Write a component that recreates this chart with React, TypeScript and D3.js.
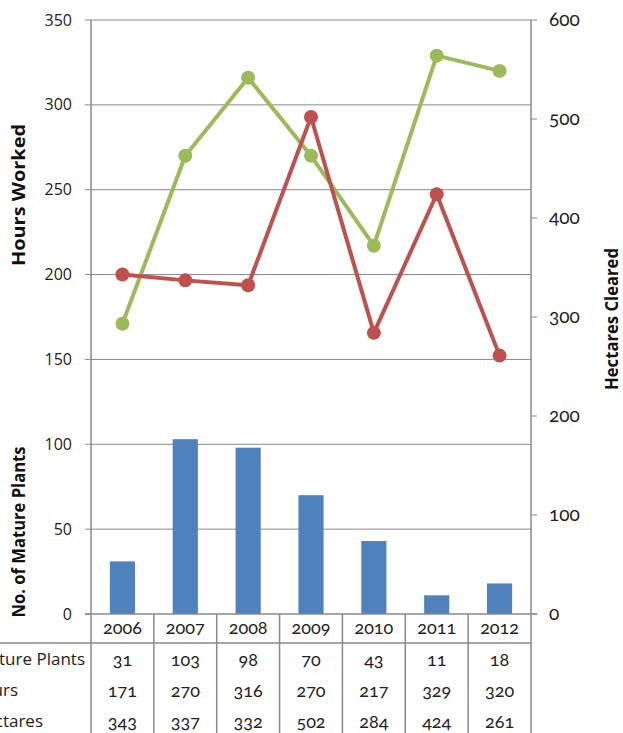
import React from "react";
import * as d3 from "d3";

const years = ["2006", "2007", "2008", "2009", "2010", "2011", "2012"];
const maturePlants = [31, 103, 98, 70, 43, 11, 18];
const hoursWorked = [171, 270, 316, 270, 217, 329, 320];
const hectaresCleared = [343, 337, 332, 502, 284, 424, 261];
const leftTicks = [0, 50, 100, 150, 200, 250, 300, 350];
const rightTicks = [0, 100, 200, 300, 400, 500, 600];
const rowLabels = ["No. of Mature Plants", "Hours", "Hectares"];

const W = 623;
const H = 733;
const plotLeft = 91;
const plotRight = 531;
const plotTop = 20;
const plotBottom = 614;
const tableRowH = 31;
const yearRowBottom = 643;

const GRID = "#898989";
const BLUE = "#4F81BD";
const GREEN = "#9BBB59";
const RED = "#C0504D";
const SANS = "'Open Sans', 'Noto Sans', sans-serif";
const OLD = "Lato, 'Open Sans', sans-serif";
const oldNums = { fontVariantNumeric: "oldstyle-nums" } as React.CSSProperties;

export default function App() {
  const x = d3
    .scaleBand<string>()
    .domain(years)
    .range([plotLeft, plotRight])
    .paddingInner(0.6)
    .paddingOuter(0.3);
  const step = (plotRight - plotLeft) / years.length;
  const cx = (i: number) => (x(years[i]) as number) + x.bandwidth() / 2;
  const yL = d3.scaleLinear().domain([0, 350]).range([plotBottom, plotTop]);
  const yR = d3.scaleLinear().domain([0, 600]).range([plotBottom, plotTop]);

  const hoursLine = d3
    .line<number>()
    .x((_, i) => cx(i))
    .y((d) => yL(d));
  const hectaresLine = d3
    .line<number>()
    .x((_, i) => cx(i))
    .y((d) => yR(d));

  const rows = [maturePlants, hoursWorked, hectaresCleared];
  const rowLabelEnds = [85, 18, 43];

  const titles = [
    { text: "Hours Worked", x: 25, y: 195, len: 142 },
    { text: "No. of Mature Plants", x: 25, y: 532, len: 171 },
    { text: "Hectares Cleared", x: 618, y: 319, len: 142 },
  ];

  return (
    <svg
      width={W}
      height={H}
      style={{ position: "absolute", left: 0, top: 0, background: "#fff" }}
    >
      {/* horizontal gridlines */}
      {leftTicks.slice(1).map((t) => (
        <line
          key={"g" + t}
          x1={plotLeft}
          x2={plotRight}
          y1={yL(t)}
          y2={yL(t)}
          stroke={GRID}
          strokeWidth={1}
        />
      ))}

      {/* bars */}
      {maturePlants.map((v, i) => (
        <rect
          key={"b" + i}
          x={x(years[i])}
          y={yL(v)}
          width={x.bandwidth()}
          height={plotBottom - yL(v)}
          fill={BLUE}
        />
      ))}

      {/* axes */}
      <line x1={plotLeft} x2={plotLeft} y1={plotTop} y2={H} stroke={GRID} strokeWidth={1.5} />
      <line x1={plotRight} x2={plotRight} y1={plotTop} y2={H} stroke={GRID} strokeWidth={1.5} />
      <line x1={plotLeft - 6} x2={plotRight + 6} y1={plotBottom} y2={plotBottom} stroke={GRID} strokeWidth={1.5} />
      {leftTicks.map((t) => (
        <g key={"lt" + t}>
          <line x1={plotLeft - 6} x2={plotLeft} y1={yL(t)} y2={yL(t)} stroke={GRID} strokeWidth={1} />
          <text
            x={72}
            y={yL(t)}
            dy="0.35em"
            textAnchor="end"
            fontFamily={SANS}
            fontSize={16}
            fill="#222"
          >
            {t}
          </text>
        </g>
      ))}
      {rightTicks.map((t) => (
        <g key={"rt" + t}>
          <line x1={plotRight} x2={plotRight + 6} y1={yR(t)} y2={yR(t)} stroke={GRID} strokeWidth={1} />
          <text
            x={549}
            y={yR(t)}
            dy="0.3em"
            textAnchor="start"
            fontFamily={OLD}
            fontSize={19}
            fill="#222"
            style={oldNums}
          >
            {t}
          </text>
        </g>
      ))}

      {/* axis titles */}
      {titles.map((t) => (
        <text
          key={t.text}
          transform={`translate(${t.x},${t.y}) rotate(-90)`}
          textAnchor="middle"
          fontFamily={SANS}
          fontWeight="bold"
          fontSize={17}
          textLength={t.len}
          lengthAdjust="spacingAndGlyphs"
          fill="#111"
        >
          {t.text}
        </text>
      ))}

      {/* lines and markers */}
      <path d={hoursLine(hoursWorked) || ""} fill="none" stroke={GREEN} strokeWidth={4} strokeLinejoin="round" />
      <path d={hectaresLine(hectaresCleared) || ""} fill="none" stroke={RED} strokeWidth={4} strokeLinejoin="round" />
      {hoursWorked.map((v, i) => (
        <circle key={"hp" + i} cx={cx(i)} cy={yL(v)} r={7} fill={GREEN} />
      ))}
      {hectaresCleared.map((v, i) => (
        <circle key={"cp" + i} cx={cx(i)} cy={yR(v)} r={7} fill={RED} />
      ))}

      {/* data table */}
      <line x1={0} x2={plotRight} y1={yearRowBottom} y2={yearRowBottom} stroke={GRID} strokeWidth={1.5} />
      {years.map((yr, i) => (
        <g key={"tc" + i}>
          {i > 0 && (
            <line
              x1={plotLeft + step * i}
              x2={plotLeft + step * i}
              y1={plotBottom}
              y2={H}
              stroke={GRID}
              strokeWidth={1.5}
            />
          )}
          <text
            x={cx(i)}
            y={629}
            dy="0.3em"
            textAnchor="middle"
            fontFamily={OLD}
            fontSize={18}
            fill="#222"
            style={oldNums}
          >
            {yr}
          </text>
          {rows.map((r, j) => (
            <text
              key={"tv" + j}
              x={cx(i)}
              y={yearRowBottom + tableRowH * (j + 0.5) + 2}
              dy="0.3em"
              textAnchor="middle"
              fontFamily={OLD}
              fontSize={18}
              fill="#222"
              style={oldNums}
            >
              {r[i]}
            </text>
          ))}
        </g>
      ))}
      {rowLabels.map((lab, j) => (
        <text
          key={"rl" + j}
          x={rowLabelEnds[j]}
          y={yearRowBottom + tableRowH * (j + 0.5) + 1}
          dy="0.35em"
          textAnchor="end"
          fontFamily={SANS}
          fontSize={17}
          fill="#222"
        >
          {lab}
        </text>
      ))}
    </svg>
  );
}
